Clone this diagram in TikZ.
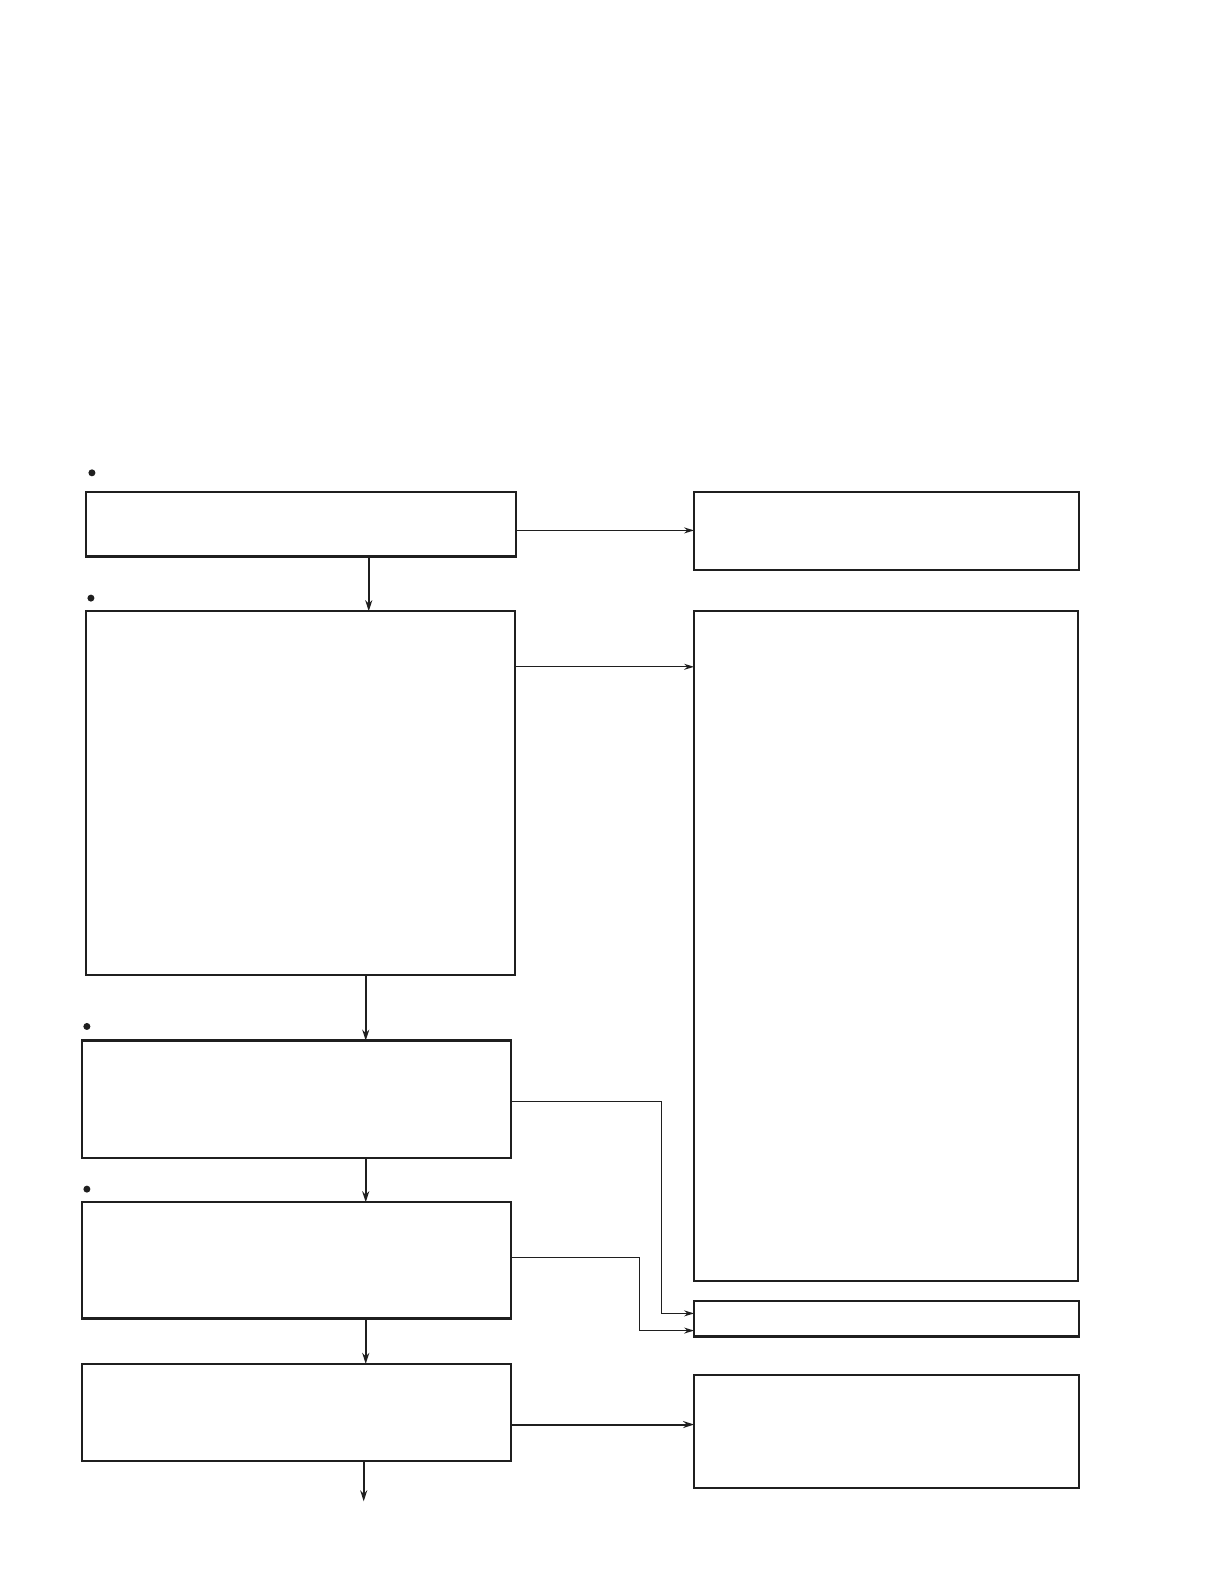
\documentclass[tikz,border=0pt]{standalone}
\usetikzlibrary{arrows.meta}
\begin{document}
\begin{tikzpicture}[x=1.0103pt,y=-1.0103pt,
  boxn/.style={draw=black!88,line width=2.4pt,inner sep=0pt,outer sep=0pt,rectangle},
  dotn/.style={circle,fill=black!88,inner sep=0pt,minimum size=7pt},
  thinarr/.style={draw=black!88,line width=1.1pt,-{Stealth[length=10pt,width=6pt]}},
  thickarr/.style={draw=black!88,line width=2pt,-{Stealth[length=11pt,width=7pt]}}]
\useasboundingbox (0,0) rectangle (1211.52,1567.85);
\newcommand{\bx}[5]{\node[boxn,minimum width=(#4-#2)*1.0103pt,minimum height=(#5-#3)*1.0103pt] (#1) at ({(#2+#4)/2},{(#3+#5)/2}) {};}
\bx{A}{85}{487}{511}{551}
\bx{B}{687}{487}{1068}{564}
\bx{C}{85}{605}{510}{965}
\bx{D}{687}{605}{1067}{1268}
\bx{E}{81}{1030}{506}{1146}
\bx{F}{81}{1190}{506}{1305}
\bx{G}{687}{1288}{1068}{1323}
\bx{H}{81}{1350}{506}{1446}
\bx{I}{687}{1361}{1068}{1473}
\node[dotn] (d1) at (91,468) {};
\node[dotn] (d2) at (90,592) {};
\node[dotn] (d3) at (86,1016) {};
\node[dotn] (d4) at (86,1177) {};
\coordinate (endH) at (360,1486);
\draw[thinarr] (A.east |- 0,525) -- (B.west |- 0,525);
\draw[thickarr] (A.south -| 365,0) -- (C.north -| 365,0);
\draw[thinarr] (C.east |- 0,660) -- (D.west |- 0,660);
\draw[thickarr] (C.south -| 362,0) -- (E.north -| 362,0);
\draw[thickarr] (E.south -| 362,0) -- (F.north -| 362,0);
\draw[thickarr] (F.south -| 362,0) -- (H.north -| 362,0);
\draw[thickarr] (H.south -| 360,0) -- (endH);
\draw[thinarr] (E.east |- 0,1090) -- (655,1090) -- (655,1300) -- (G.west |- 0,1300);
\draw[thinarr] (F.east |- 0,1245) -- (633,1245) -- (633,1317) -- (G.west |- 0,1317);
\draw[thickarr] (H.east |- 0,1410) -- (I.west |- 0,1410);
\end{tikzpicture}
\end{document}
